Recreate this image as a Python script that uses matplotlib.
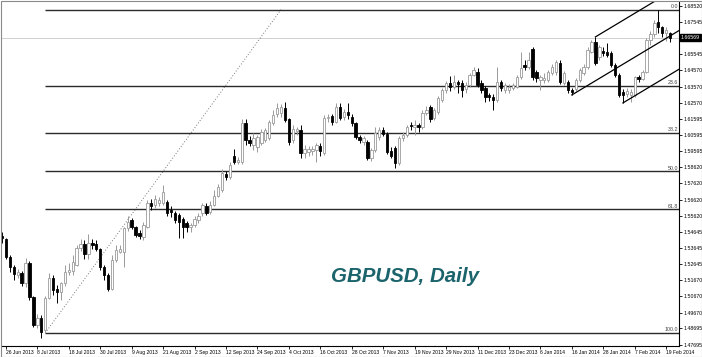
import numpy as np
import pandas as pd
import matplotlib
matplotlib.use('Agg')
import matplotlib.pyplot as plt
from matplotlib.patches import Rectangle

plt.rcParams['font.family'] = ['Liberation Sans', 'DejaVu Sans']

# ---------------- data ----------------
holidays = ['2013-12-25', '2014-01-01']
dates = [d for d in pd.bdate_range('2013-06-25', '2014-02-20') if d.strftime('%Y-%m-%d') not in holidays]

opens = [1.5440,
 1.5420, 1.5308, 1.5247, 1.5198, 1.5210, 1.5148, 1.5272, 1.5062, 1.4890, 1.4935,
 1.4858, 1.5056, 1.5180, 1.5112, 1.5094, 1.5149, 1.5216, 1.5222, 1.5259, 1.5364,
 1.5389, 1.5327, 1.5395, 1.5390, 1.5358, 1.5247, 1.5198, 1.5112, 1.5290, 1.5340,
 1.5340, 1.5486, 1.5536, 1.5493, 1.5456, 1.5432, 1.5493, 1.5640, 1.5628, 1.5640,
 1.5640, 1.5647, 1.5598, 1.5579, 1.5567, 1.5542, 1.5517, 1.5493, 1.5505, 1.5536,
 1.5579, 1.5622, 1.5585, 1.5628, 1.5684, 1.5720, 1.5819, 1.5800, 1.5930, 1.5893,
 1.5893, 1.6133, 1.6028, 1.5997, 1.5985, 1.6010, 1.6028, 1.6040, 1.6133, 1.6188,
 1.6194, 1.6225, 1.6157, 1.6028, 1.6083, 1.6090, 1.5948, 1.5955, 1.5960, 1.5967,
 1.5990, 1.5948, 1.6163, 1.6176, 1.6139, 1.6231, 1.6170, 1.6200, 1.6170, 1.6133,
 1.6046, 1.6016, 1.6016, 1.5917, 1.5967, 1.6046, 1.6090, 1.6065, 1.5960, 1.5980,
 1.5887, 1.6040, 1.6059, 1.6120, 1.6108, 1.6120, 1.6105, 1.6194, 1.6231, 1.6163,
 1.6200, 1.6274, 1.6336, 1.6379, 1.6354, 1.6385, 1.6379, 1.6342, 1.6366, 1.6428,
 1.6446, 1.6379, 1.6348, 1.6305, 1.6292, 1.6274, 1.6385, 1.6336, 1.6336, 1.6348,
 1.6354, 1.6415, 1.6489, 1.6477, 1.6588, 1.6446, 1.6397, 1.6397, 1.6397, 1.6440,
 1.6446, 1.6502, 1.6379, 1.6385, 1.6336, 1.6340, 1.6397, 1.6440, 1.6477, 1.6570,
 1.6631, 1.6538, 1.6575, 1.6569, 1.6563, 1.6489, 1.6428, 1.6323, 1.6310, 1.6305,
 1.6305, 1.6415, 1.6403, 1.6446, 1.6640, 1.6680, 1.6753, 1.6723, 1.6686, 1.6686]

highs = [1.5462,
 1.5428, 1.5321, 1.5259, 1.5235, 1.5222, 1.5302, 1.5285, 1.5070, 1.4960, 1.4950,
 1.5070, 1.5210, 1.5198, 1.5137, 1.5155, 1.5259, 1.5272, 1.5321, 1.5382, 1.5420,
 1.5413, 1.5450, 1.5420, 1.5410, 1.5365, 1.5260, 1.5210, 1.5321, 1.5380, 1.5380,
 1.5495, 1.5560, 1.5550, 1.5500, 1.5475, 1.5523, 1.5660, 1.5665, 1.5690, 1.5680,
 1.5750, 1.5660, 1.5620, 1.5590, 1.5580, 1.5555, 1.5530, 1.5520, 1.5560, 1.5580,
 1.5640, 1.5640, 1.5650, 1.5720, 1.5760, 1.5850, 1.5835, 1.5890, 1.5970, 1.5925,
 1.6157, 1.6157, 1.6050, 1.6070, 1.6060, 1.6095, 1.6100, 1.6150, 1.6213, 1.6256,
 1.6250, 1.6260, 1.6165, 1.6120, 1.6110, 1.6120, 1.5997, 1.5990, 1.5990, 1.6010,
 1.6010, 1.6180, 1.6190, 1.6190, 1.6256, 1.6256, 1.6220, 1.6256, 1.6185, 1.6140,
 1.6060, 1.6055, 1.6030, 1.5980, 1.6108, 1.6105, 1.6110, 1.6075, 1.5985, 1.5990,
 1.6050, 1.6080, 1.6120, 1.6140, 1.6151, 1.6135, 1.6210, 1.6240, 1.6245, 1.6225,
 1.6300, 1.6350, 1.6390, 1.6420, 1.6430, 1.6400, 1.6395, 1.6385, 1.6440, 1.6480,
 1.6470, 1.6395, 1.6360, 1.6320, 1.6310, 1.6477, 1.6395, 1.6380, 1.6370, 1.6380,
 1.6430, 1.6569, 1.6520, 1.6570, 1.6600, 1.6460, 1.6430, 1.6440, 1.6460, 1.6495,
 1.6520, 1.6520, 1.6455, 1.6395, 1.6350, 1.6410, 1.6470, 1.6495, 1.6600, 1.6645,
 1.6662, 1.6615, 1.6600, 1.6625, 1.6575, 1.6500, 1.6440, 1.6340, 1.6345, 1.6340,
 1.6420, 1.6430, 1.6460, 1.6655, 1.6700, 1.6765, 1.6828, 1.6730, 1.6723, 1.6692]

lows = [1.5395,
 1.5296, 1.5216, 1.5167, 1.5179, 1.5130, 1.5124, 1.5044, 1.4878, 1.4870, 1.4812,
 1.4841, 1.5050, 1.5075, 1.5026, 1.5044, 1.5130, 1.5198, 1.5198, 1.5253, 1.5345,
 1.5296, 1.5296, 1.5360, 1.5345, 1.5228, 1.5167, 1.5100, 1.5106, 1.5280, 1.5330,
 1.5250, 1.5470, 1.5480, 1.5430, 1.5420, 1.5413, 1.5485, 1.5600, 1.5610, 1.5625,
 1.5630, 1.5560, 1.5552, 1.5520, 1.5425, 1.5425, 1.5460, 1.5462, 1.5490, 1.5520,
 1.5560, 1.5565, 1.5570, 1.5620, 1.5675, 1.5710, 1.5780, 1.5790, 1.5880, 1.5880,
 1.5880, 1.5997, 1.5990, 1.5967, 1.5955, 1.6000, 1.6015, 1.6030, 1.6120, 1.6170,
 1.6170, 1.6140, 1.6000, 1.6010, 1.6060, 1.5917, 1.5917, 1.5930, 1.5935, 1.5893,
 1.5930, 1.5935, 1.6140, 1.6120, 1.6130, 1.6150, 1.6150, 1.6160, 1.6115, 1.6035,
 1.6010, 1.5997, 1.5905, 1.5900, 1.5955, 1.6030, 1.6050, 1.5940, 1.5915, 1.5856,
 1.5875, 1.6020, 1.6045, 1.6090, 1.6059, 1.6080, 1.6095, 1.6180, 1.6140, 1.6150,
 1.6190, 1.6260, 1.6320, 1.6330, 1.6340, 1.6320, 1.6293, 1.6317, 1.6355, 1.6420,
 1.6355, 1.6320, 1.6262, 1.6270, 1.6213, 1.6260, 1.6330, 1.6320, 1.6320, 1.6335,
 1.6345, 1.6405, 1.6460, 1.6465, 1.6400, 1.6385, 1.6336, 1.6380, 1.6385, 1.6430,
 1.6430, 1.6370, 1.6365, 1.6320, 1.6305, 1.6330, 1.6385, 1.6430, 1.6465, 1.6560,
 1.6490, 1.6520, 1.6545, 1.6540, 1.6475, 1.6415, 1.6290, 1.6256, 1.6290, 1.6262,
 1.6290, 1.6385, 1.6395, 1.6440, 1.6615, 1.6660, 1.6686, 1.6661, 1.6637, 1.6631]

closes = [1.5425,
 1.5308, 1.5247, 1.5204, 1.5216, 1.5148, 1.5272, 1.5062, 1.4890, 1.4935, 1.4850,
 1.5056, 1.5180, 1.5106, 1.5094, 1.5149, 1.5216, 1.5229, 1.5277, 1.5364, 1.5390,
 1.5327, 1.5395, 1.5385, 1.5358, 1.5247, 1.5198, 1.5112, 1.5290, 1.5352, 1.5360,
 1.5488, 1.5523, 1.5493, 1.5444, 1.5438, 1.5505, 1.5640, 1.5622, 1.5665, 1.5659,
 1.5708, 1.5579, 1.5585, 1.5536, 1.5524, 1.5493, 1.5493, 1.5505, 1.5542, 1.5560,
 1.5628, 1.5579, 1.5628, 1.5684, 1.5739, 1.5825, 1.5800, 1.5874, 1.5893, 1.5905,
 1.6133, 1.6028, 1.6010, 1.6040, 1.6046, 1.6077, 1.6090, 1.6139, 1.6182, 1.6225,
 1.6231, 1.6151, 1.6016, 1.6096, 1.6095, 1.5948, 1.5973, 1.5970, 1.5975, 1.5997,
 1.5960, 1.6163, 1.6170, 1.6139, 1.6231, 1.6163, 1.6200, 1.6182, 1.6133, 1.6046,
 1.6028, 1.6040, 1.5917, 1.5967, 1.6071, 1.6090, 1.6065, 1.5954, 1.5930, 1.5887,
 1.6040, 1.6059, 1.6108, 1.6114, 1.6120, 1.6105, 1.6194, 1.6213, 1.6157, 1.6213,
 1.6286, 1.6336, 1.6379, 1.6354, 1.6385, 1.6372, 1.6336, 1.6366, 1.6428, 1.6459,
 1.6366, 1.6336, 1.6292, 1.6292, 1.6274, 1.6385, 1.6348, 1.6366, 1.6354, 1.6366,
 1.6415, 1.6471, 1.6477, 1.6520, 1.6415, 1.6409, 1.6415, 1.6409, 1.6446, 1.6477,
 1.6508, 1.6385, 1.6440, 1.6336, 1.6323, 1.6397, 1.6459, 1.6477, 1.6582, 1.6631,
 1.6502, 1.6600, 1.6563, 1.6551, 1.6489, 1.6428, 1.6305, 1.6305, 1.6330, 1.6323,
 1.6415, 1.6403, 1.6446, 1.6640, 1.6680, 1.6750, 1.6723, 1.6686, 1.6705, 1.6657]

date_tick_labels = ['26 Jun 2013', '8 Jul 2013', '18 Jul 2013', '30 Jul 2013', '9 Aug 2013',
                    '21 Aug 2013', '2 Sep 2013', '12 Sep 2013', '24 Sep 2013', '4 Oct 2013',
                    '16 Oct 2013', '28 Oct 2013', '7 Nov 2013', '19 Nov 2013', '29 Nov 2013',
                    '11 Dec 2013', '23 Dec 2013', '6 Jan 2014', '16 Jan 2014', '28 Jan 2014',
                    '7 Feb 2014', '19 Feb 2014']

price_ticks = [1.68520, 1.67545, 1.65545, 1.64570, 1.63570, 1.62570, 1.61595, 1.60595,
               1.59595, 1.58620, 1.57620, 1.56620, 1.55620, 1.54645, 1.53645, 1.52645,
               1.51670, 1.50670, 1.49670, 1.48695, 1.47695]
current_price = 1.66569

fib_levels = [0.0, 23.6, 38.2, 50.0, 61.8, 100.0]
fib_anchor_low = ('2013-07-10', 1.4841)
fib_anchor_high = ('2013-10-02', 1.6830)

channel_mid = [('2014-01-16', 1.6305), ('2014-02-20', 1.6668)]
channel_upper_start = ('2014-01-24', 1.6662)
channel_lower_start = ('2014-02-04', 1.6256)

# ---------------- helpers ----------------
xpos = np.arange(len(dates)) - 1          # 26 Jun 2013 is bar 0
date_index = {d.strftime('%Y-%m-%d'): x for d, x in zip(dates, xpos)}
label_to_x = {}
for d, x in zip(dates, xpos):
    label_to_x[f"{d.day} {d.strftime('%b %Y')}"] = x

o = np.array(opens); h = np.array(highs); l = np.array(lows); c = np.array(closes)
bull = c >= o

XMIN, XMAX = -0.99, 171.27
YMIN, YMAX = 1.47611, 1.68767

W, H = 702, 357
fig = plt.figure(figsize=(W / 100, H / 100), dpi=100)
ax = fig.add_axes([2 / W, 1 - 346 / H, 677 / W, 344 / H])
ax.set_xlim(XMIN, XMAX)
ax.set_ylim(YMIN, YMAX)
ax.set_facecolor('white')

# current price line
ax.axhline(current_price, color='#cfcfcf', lw=0.7, zorder=1)

# candles
bull_col = '#9a9a9a'
wick_colors = [bull_col if b else 'black' for b in bull]
ax.vlines(xpos, l, h, colors=wick_colors, linewidth=0.7, zorder=3)
body_bottom = np.minimum(o, c)
body_h = np.maximum(np.abs(c - o), 0.00006)
ax.bar(xpos[bull], body_h[bull], bottom=body_bottom[bull], width=0.6,
       color='white', edgecolor=bull_col, linewidth=0.6, zorder=4)
ax.bar(xpos[~bull], body_h[~bull], bottom=body_bottom[~bull], width=0.6,
       color='black', edgecolor='black', linewidth=0.6, zorder=4)

# fibonacci retracement
x_lo = date_index[fib_anchor_low[0]]
x_hi = date_index[fib_anchor_high[0]]
p_lo, p_hi = fib_anchor_low[1], fib_anchor_high[1]
ax.plot([x_lo, x_hi], [p_lo, p_hi], color='#777777', lw=0.7, ls=(0, (1, 2)), zorder=2)
for lev in fib_levels:
    price = p_hi - (p_hi - p_lo) * lev / 100.0
    ax.plot([x_lo, XMAX], [price, price], color='#2a2a2a', lw=1.0, zorder=2,
            solid_capstyle='butt')
    ax.text(XMAX - 0.3, price + 0.0004, f"{lev:.1f}", ha='right', va='bottom',
            fontsize=3.8, color='#404040', zorder=5)

# equidistant channel
xm1, pm1 = date_index[channel_mid[0][0]], channel_mid[0][1]
xm2, pm2 = date_index[channel_mid[1][0]], channel_mid[1][1]
slope = (pm2 - pm1) / (xm2 - xm1)
for (dstr, p) in [(channel_mid[0][0], pm1), channel_upper_start, channel_lower_start]:
    x0 = date_index[dstr]
    xs = np.array([x0, XMAX + 5])
    ax.plot(xs, p + slope * (xs - x0), color='black', lw=0.9, zorder=5)

# axes styling
for s in ['left', 'top']:
    ax.spines[s].set_visible(False)
ax.spines['right'].set_color('black')
ax.spines['bottom'].set_color('black')
ax.spines['right'].set_linewidth(0.8)
ax.spines['bottom'].set_linewidth(0.8)

ax.yaxis.tick_right()
ax.set_yticks(price_ticks)
ax.set_yticklabels([f"{p:.5f}" for p in price_ticks])
ax.tick_params(axis='y', direction='out', length=2, width=0.6, labelsize=3.8, pad=1,
               colors='black')

tick_x = [label_to_x[t] for t in date_tick_labels]
ax.set_xticks(tick_x)
ax.set_xticklabels(date_tick_labels, ha='left')
ax.tick_params(axis='x', direction='out', length=2, width=0.6, labelsize=3.6, pad=1.2,
               colors='black')

# current price box
ax.text(1.0 + 2 / 677, current_price, f"{current_price:.5f}", transform=ax.get_yaxis_transform(),
        ha='left', va='center', fontsize=3.8, color='white', zorder=10,
        bbox=dict(boxstyle='square,pad=0.15', facecolor='black', edgecolor='black'))

# big label
fig.text(405 / W, 1 - 277 / H, 'GBPUSD, Daily', ha='center', va='center', fontsize=14.8,
         fontweight='bold', fontstyle='italic', color='#1c646c')

# outer frame
fig.patches.append(Rectangle((0.5 / W, 0.5 / H), 1 - 1.0 / W, 1 - 1.0 / H,
                             transform=fig.transFigure, fill=False,
                             edgecolor='#8a8a8a', linewidth=0.8))

fig.savefig('out.png', dpi=100, facecolor='white')
